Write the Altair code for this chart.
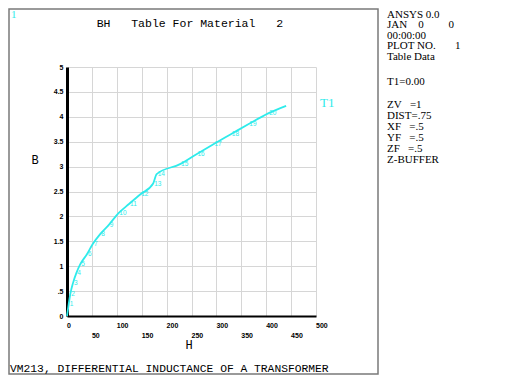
import altair as alt
import pandas as pd

# ---- data ----
H = [0, 3.4, 6.6, 12, 18.7, 26.7, 40, 52, 67, 84, 103, 124.5, 147, 173, 180,
     227, 260, 294, 329, 364, 404, 440]
B = [0, 0.24, 0.44, 0.66, 0.86, 1.04, 1.24, 1.45, 1.65, 1.83, 2.06, 2.25, 2.44,
     2.66, 2.85, 3.05, 3.25, 3.45, 3.65, 3.85, 4.07, 4.22]
POINT_LABELS = [""] + [str(i) for i in range(1, 21)] + [""]

X_TICKS_TOP = [0, 100, 200, 300, 400, 500]
X_TICKS_BOTTOM = [50, 150, 250, 350, 450]
X_GRID = [0, 50, 100, 150, 200, 250, 300, 350, 400, 450, 500]
Y_TICKS = [0, 0.5, 1, 1.5, 2, 2.5, 3, 3.5, 4, 4.5, 5]

NB = "\u00a0"
TITLE = "BH" + NB * 3 + "Table For Material" + NB * 3 + "2"
X_TITLE = "H"
Y_TITLE = "B"
SERIES = "T1"
WINDOW_NO = "1"
CAPTION = "VM213, DIFFERENTIAL INDUCTANCE OF A TRANSFORMER"
PANEL = ["ANSYS 0.0", "JAN" + NB * 4 + "0" + NB * 9 + "0", "00:00:00",
         "PLOT NO." + NB * 7 + "1", "Table Data", "T1=0.00",
         "ZV" + NB * 3 + "=1", "DIST=.75", "XF" + NB * 3 + "=.5",
         "YF" + NB * 3 + "=.5", "ZF" + NB * 3 + "=.5", "Z-BUFFER"]

# ---- layout (pixels relative to plot area) ----
PANEL_Y = [-52.5, -42, -31.5, -21, -10.5, 15, 38, 49, 60, 71, 82, 93]
CYAN = "#2EEBEB"
GRID = "#d6d6d6"

xscale = alt.Scale(domain=[0, 500], nice=False, zero=False)
yscale = alt.Scale(domain=[0, 5], nice=False, zero=False)
xaxis = alt.Axis(values=X_GRID, labels=False, ticks=False, tickSize=0, title="",
                 domainColor="black", domainWidth=2, gridColor=GRID, gridWidth=1)
yaxis = alt.Axis(values=Y_TICKS, format=".1~f",
                 labelExpr="datum.value == 0.5 ? '.5' : datum.label",
                 ticks=False, tickSize=0, labelPadding=4, labelFont="Liberation Sans",
                 labelFontSize=7, labelFontWeight="bold", labelColor="black",
                 domainColor="black", domainWidth=3, gridColor=GRID, gridWidth=1,
                 title="")


def xenc(field):
    return alt.X(field, type="quantitative", scale=xscale, axis=xaxis, title="")


def yenc(field):
    return alt.Y(field, type="quantitative", scale=yscale, axis=yaxis, title="")


def txt(s, x, y, **kw):
    return alt.Chart(pd.DataFrame({"t": [s]})).mark_text(**kw).encode(
        x=alt.value(x), y=alt.value(y), text="t:N")


df = pd.DataFrame({"H": H, "B": B, "lab": POINT_LABELS})

border = alt.Chart(pd.DataFrame({"a": [0]})).mark_rect(
    fillOpacity=0, stroke="#7a7a7a", strokeWidth=1.5).encode(
    x=alt.value(-58), x2=alt.value(311), y=alt.value(-58), y2=alt.value(307))

line = alt.Chart(df).mark_line(color=CYAN, strokeWidth=1.8, interpolate="monotone").encode(
    x=xenc("H"), y=yenc("B"))

pt_labels = alt.Chart(df).mark_text(align="left", baseline="middle", dx=1, fontSize=6.5,
                                    font="Liberation Sans", color=CYAN).encode(
    x=xenc("H"), y=yenc("B"), text="lab:N")

xl_style = dict(align="left", baseline="middle", fontSize=7, font="Liberation Sans",
                fontWeight="bold", color="black")
xlab_top = alt.Chart(pd.DataFrame({"v": X_TICKS_TOP})).mark_text(**xl_style).encode(
    x=xenc("v"), y=alt.value(259), text=alt.Text("v:Q"))
xlab_bot = alt.Chart(pd.DataFrame({"v": X_TICKS_BOTTOM})).mark_text(**xl_style).encode(
    x=xenc("v"), y=alt.value(269), text=alt.Text("v:Q"))

mono = dict(font="Liberation Mono", color="black", baseline="middle")
layers = [border, line, pt_labels, xlab_top, xlab_bot,
          txt(TITLE, 29.7, -43, align="left", fontSize=11.5, **mono),
          txt(X_TITLE, 122, 277.5, align="center", fontSize=12, **mono),
          txt(Y_TITLE, -32, 93, align="center", fontSize=12, **mono),
          txt(CAPTION, -57, 301.5, align="left", fontSize=11.3, **mono),
          txt(SERIES, 253, 35.5, align="left", baseline="middle", fontSize=13,
              font="Liberation Serif", color=CYAN),
          txt(WINDOW_NO, -56, -52, align="left", baseline="middle", fontSize=11,
              font="Liberation Serif", color=CYAN)]
for s, yy in zip(PANEL, PANEL_Y):
    layers.append(txt(s, 320, yy, align="left", baseline="middle", fontSize=11,
                      font="Liberation Serif", color="black"))

chart = alt.layer(*layers).properties(
    width=249, height=249, autosize="none",
    padding={"left": 59, "top": 59, "right": 184, "bottom": 59},
    background="white",
).configure_view(strokeWidth=0)

chart.save("out.html", embed_options={"renderer": "svg", "actions": False})
